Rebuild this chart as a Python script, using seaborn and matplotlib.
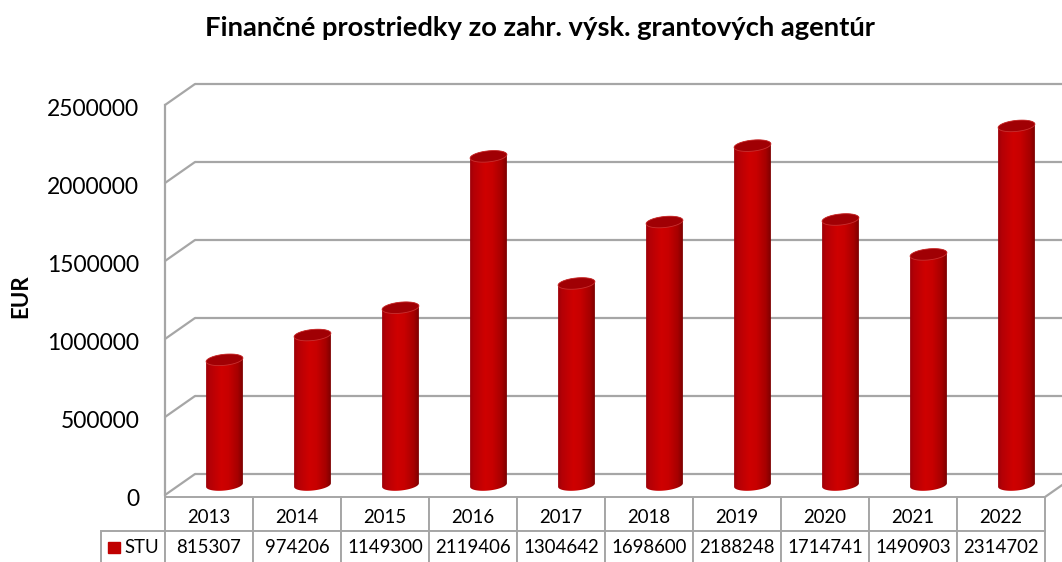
import numpy as np
import pandas as pd
import seaborn as sns
import matplotlib
matplotlib.use('Agg')
import matplotlib.pyplot as plt
from matplotlib.colors import LinearSegmentedColormap
from matplotlib.lines import Line2D
from matplotlib.patches import PathPatch, Polygon, Rectangle
from matplotlib.path import Path
from matplotlib.transforms import Affine2D

years = ['2013', '2014', '2015', '2016', '2017', '2018', '2019', '2020', '2021', '2022']
stu = [815307, 974206, 1149300, 2119406, 1304642, 1698600, 2188248, 1714741, 1490903, 2314702]
y_ticks = [0, 500000, 1000000, 1500000, 2000000, 2500000]

W, H = 1062, 562
GRID = '#a6a6a6'
SIDE = 165
RIGHT = 1045
PX_PER_UNIT = 390 / 2500000

sns.set_theme(style='white')
plt.rcParams['font.family'] = ['Lato', 'DejaVu Sans']


def box(left, right, bottom, top):
    # pixel box (y from the top of the image) to figure fractions
    return [left / W, 1 - bottom / H, (right - left) / W, (bottom - top) / H]


def px_line(fig, xs, ys, lw=1.6):
    fig.add_artist(Line2D([x / W for x in xs], [1 - y / H for y in ys], color=GRID, lw=lw, transform=fig.transFigure))


def tilted_arc(cx, cy, start, stop, a=18.5, b=5.5, tilt=6):
    # ellipse arc in pixel offsets, converted to data units
    t = np.radians(np.linspace(start, stop, 60))
    th = np.radians(tilt)
    dx = a * np.cos(t) * np.cos(th) - b * np.sin(t) * np.sin(th)
    dy = a * np.cos(t) * np.sin(th) + b * np.sin(t) * np.cos(th)
    return np.column_stack([cx + dx / 88.0, cy + dy / PX_PER_UNIT])


fig = plt.figure(figsize=(W / 100, H / 100), dpi=100)
fig.patch.set_facecolor('white')

# back wall grid
ax_back = fig.add_axes(box(SIDE + 30, W + 20, 474, 84))
ax_back.set_ylim(0, 2500000)
ax_back.set_xlim(0, 1)
ax_back.hlines(y_ticks, 0, 1, color=GRID, lw=1.6, clip_on=False)
ax_back.axis('off')

# front plane: tick labels, left edge and the data table
ax_front = fig.add_axes(box(SIDE, RIGHT, 495, 105))
ax_front.patch.set_alpha(0)
ax_front.set_xlim(0, 1)
ax_front.set_ylim(0, 2500000)
ax_front.set_xticks([])
ax_front.set_yticks(y_ticks)
ax_front.set_yticklabels([str(v) for v in y_ticks], fontsize=16.5, color='black')
ax_front.tick_params(axis='y', length=0, pad=18.5)
for label in ax_front.get_yticklabels():
    label.set_transform(label.get_transform() + Affine2D().translate(0, -2))
sns.despine(ax=ax_front, top=True, right=True, bottom=True)
ax_front.spines['left'].set_color(GRID)
ax_front.spines['left'].set_linewidth(1.6)
ax_front.set_ylabel('EUR', fontsize=16, fontweight='bold', color='black')
ax_front.yaxis.set_label_coords((31 - SIDE) / (RIGHT - SIDE), 0.51)

for v in y_ticks:
    y = 495 - v * PX_PER_UNIT
    px_line(fig, [SIDE, SIDE + 30], [y, y - 21])
px_line(fig, [RIGHT, W + 10], [497, 497 - 21 * (W + 10 - RIGHT) / 30])

table = ax_front.table(cellText=[years, [str(v) for v in stu]], cellLoc='center',
                       bbox=[0, -(564 - 495) / 390, 1, -2 / 390 + (564 - 495) / 390])
table.auto_set_font_size(False)
table.set_fontsize(13.4)
for (r, c), cell in table.get_celld().items():
    cell.set_edgecolor(GRID)
    cell.set_linewidth(1.4)
    cell.get_text().set_color('black')
    if r == 0:
        cell.get_text().set_transform(Affine2D().translate(0, -4))

# bars
df = pd.DataFrame({'year': years, 'STU': stu})
ax = fig.add_axes(box(SIDE, RIGHT, 487, 97))
ax.patch.set_alpha(0)
sns.barplot(data=df, x='year', y='STU', color='#c00000', width=37 / 88, ax=ax, saturation=1)
xlim = ((SIDE - 224.5) / 88, (RIGHT - 224.5) / 88)

body_cmap = LinearSegmentedColormap.from_list('cyl', [(0, '#980008'), (0.12, '#b40006'), (0.42, '#cf0000'),
                                                       (0.6, '#c80000'), (0.85, '#a60000'), (1, '#760000')])
gradient = np.linspace(0, 1, 64).reshape(1, -1)
base = 2 / PX_PER_UNIT  # floor sits a little above the zero line
for patch in list(ax.patches):
    x0 = patch.get_x()
    w = patch.get_width()
    h = patch.get_height()
    cx = x0 + w / 2
    patch.set_visible(False)
    outline = np.vstack([tilted_arc(cx, base, 180, 360), tilted_arc(cx, h, 0, 180)])
    im = ax.imshow(gradient, cmap=body_cmap, aspect='auto', zorder=3,
                   extent=(x0 - 0.01, x0 + w + 0.01, -20 / PX_PER_UNIT, h + 20 / PX_PER_UNIT))
    clip = PathPatch(Path(outline, closed=False), transform=ax.transData, fc='none', ec='none', clip_on=False)
    ax.add_patch(clip)
    im.set_clip_box(fig.bbox)
    im.set_clip_path(clip)
    ax.add_patch(Polygon(tilted_arc(cx, h, 0, 360), closed=True, fc='#a00004', ec='#c83030', lw=0.6, zorder=4))

ax.set_xlim(*xlim)
ax.set_ylim(0, 2500000)
ax.axis('off')

# legend key in the table row
fig.add_artist(Rectangle((108 / W, 1 - 553 / H), 12 / W, 11 / H, color='#c00000', transform=fig.transFigure))
cell = table.add_cell(1, -1, width=64 / 880, height=table[(1, 0)].get_height(), text='STU', loc='right')
cell.PAD = 0.1
cell.set_edgecolor(GRID)
cell.set_linewidth(1.4)
cell.get_text().set_fontsize(13.4)
cell.get_text().set_color('black')

fig.text(540 / W, 1 - 28 / H, 'Finančné prostriedky zo zahr. výsk. grantových agentúr', fontsize=19.7,
         fontweight='bold', ha='center', va='center', color='black')

fig.savefig('out.png', dpi=100)
plt.close(fig)
